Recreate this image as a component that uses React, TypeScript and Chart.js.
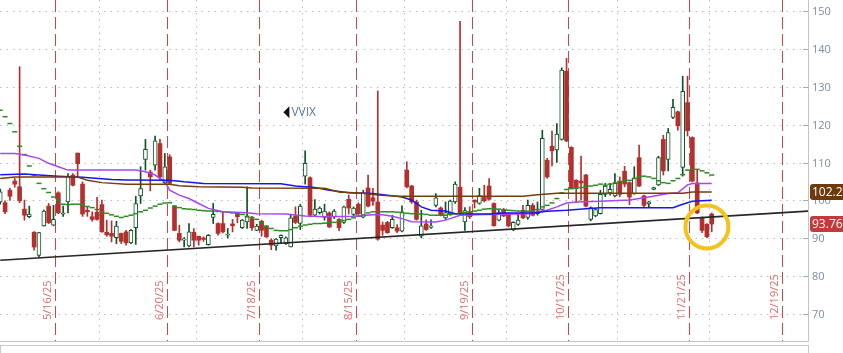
import React, { useEffect, useRef } from "react";
import { Chart, registerables } from "chart.js";
Chart.register(...registerables);

// ---- OHLC (one per trading day, index 0 = 5/1/25) ----
const opens = [
  99.6, 99.4, 102.7, 105.1, 103.6, 97.7, 95.7, 91.6, 85.5, 93.3, 98.5, 93.5, 102.0, 96.4, 99.6, 106.7, 112.5, 104.3, 97.4, 95.7,
  96.9, 98.9, 91.6, 91.3, 90.2, 91.3, 91.7, 88.8, 92.8, 101.2, 110.8, 107.5, 109.3, 115.0, 104.7, 111.5, 98.3, 91.3, 89.5, 88.0,
  91.6, 90.55, 90.1, 88.35, 95.5, 93.9, 93.9, 90.8, 93.8, 96.4, 92.8, 94.3, 95.2, 92.1, 94.5, 93.0, 89.5, 88.0, 90.2, 88.6,
  87.7, 95.9, 93.9, 106.4, 106.0, 96.1, 96.8, 95.5, 96.7, 95.7, 95.0, 94.2, 100.3, 96.3, 99.0, 95.6, 103.3, 100.7, 99.6, 93.5,
  94.2, 92.8, 92.8, 91.9, 108.0, 103.8, 99.6, 90.6, 93.8, 92.9, 98.7, 98.0, 95.4, 96.45, 99.6, 103.5, 94.3, 96.8, 100.1, 99.2,
  100.8, 103.8, 99.2, 94.8, 97.6, 96.5, 92.3, 93.7, 97.4, 95.5, 98.7, 96.5, 97.6, 110.6, 114.3, 113.3, 116.1, 134.1, 114.0, 105.3,
  105.1, 106.7, 95.0, 95.9, 96.5, 101.6, 102.0, 101.2, 105.1, 107.7, 104.7, 101.8, 111.3, 101.2, 99.1, 102.9, 104.1, 116.1, 110.8, 121.9,
  123.4, 108.7, 125.8, 116.6, 104.6, 95.5, 93.7, 96.4,
];
const highs = [
  103.0, 99.9, 103.2, 105.8, 135.3, 100.1, 98.5, 91.8, 91.6, 97.5, 99.2, 98.7, 102.3, 98.5, 107.1, 107.1, 112.5, 104.9, 98.3, 97.0,
  100.8, 100.1, 94.8, 94.6, 94.5, 91.4, 92.1, 92.3, 101.1, 108.9, 116.1, 108.0, 117.0, 116.1, 112.4, 112.1, 98.7, 93.45, 90.2, 93.9,
  92.6, 90.6, 90.4, 91.0, 99.2, 94.1, 97.0, 92.6, 95.0, 96.5, 95.0, 103.6, 95.8, 93.7, 94.8, 93.4, 89.9, 89.9, 90.9, 90.4,
  96.1, 98.3, 99.0, 113.1, 106.2, 100.2, 98.3, 99.0, 97.0, 97.6, 95.2, 98.5, 101.4, 98.3, 99.4, 102.7, 106.7, 103.2, 128.9, 94.3,
  94.5, 96.1, 93.6, 98.6, 110.2, 104.0, 100.1, 97.4, 94.9, 94.9, 101.8, 98.3, 99.6, 100.1, 104.9, 147.3, 98.1, 98.3, 100.1, 103.2,
  104.0, 105.8, 99.4, 97.4, 97.9, 96.7, 94.4, 96.4, 98.7, 100.1, 99.2, 99.6, 118.5, 111.1, 118.3, 120.3, 135.0, 137.5, 114.2, 105.5,
  111.7, 106.9, 98.3, 97.9, 102.7, 104.5, 104.5, 107.1, 106.2, 109.0, 104.9, 108.9, 114.6, 101.4, 99.8, 103.5, 111.7, 117.2, 119.0, 126.7,
  123.6, 132.8, 132.8, 116.8, 108.2, 95.7, 93.9, 96.7,
];
const lows = [
  99.0, 96.5, 100.0, 103.5, 99.4, 94.8, 95.4, 86.9, 85.1, 93.2, 93.9, 93.3, 96.5, 95.8, 96.7, 103.8, 106.2, 95.8, 95.8, 94.5,
  94.8, 91.6, 90.55, 89.05, 88.6, 88.6, 88.2, 88.6, 88.4, 99.2, 108.0, 102.5, 108.0, 105.4, 104.3, 104.3, 92.0, 89.05, 87.7, 87.7,
  87.7, 88.2, 89.2, 88.2, 93.9, 90.8, 91.4, 90.1, 91.7, 94.1, 92.6, 92.6, 92.1, 92.0, 90.55, 90.2, 87.0, 86.85, 88.8, 88.4,
  87.7, 93.9, 92.3, 104.3, 95.7, 95.7, 96.4, 94.8, 92.8, 95.2, 92.0, 93.9, 96.4, 95.8, 96.1, 95.4, 98.3, 98.7, 89.5, 90.8,
  91.3, 92.6, 91.5, 91.7, 103.3, 99.2, 94.8, 90.1, 92.1, 92.6, 98.3, 95.9, 95.0, 96.1, 99.2, 96.1, 92.1, 95.2, 98.0, 99.0,
  99.6, 100.1, 93.2, 94.6, 95.7, 93.0, 92.0, 93.4, 95.2, 95.0, 95.9, 96.1, 97.4, 105.8, 109.1, 110.0, 115.9, 115.5, 103.1, 99.4,
  100.1, 98.3, 94.6, 95.7, 96.4, 101.0, 101.4, 100.9, 101.0, 103.6, 98.9, 101.6, 103.6, 98.1, 98.3, 102.8, 103.9, 106.7, 107.8, 121.6,
  118.55, 106.4, 117.0, 104.9, 96.5, 91.5, 90.2, 91.7,
];
const closes = [
  102.3, 97.0, 101.1, 104.3, 99.9, 96.1, 96.4, 87.7, 91.5, 97.2, 94.1, 95.0, 96.7, 96.7, 106.2, 104.0, 109.7, 96.4, 97.0, 95.0,
  95.0, 91.7, 90.9, 90.55, 93.2, 89.2, 88.8, 92.1, 99.2, 103.1, 113.5, 106.2, 115.7, 106.2, 108.9, 104.5, 92.1, 89.5, 89.8, 91.7,
  89.5, 89.5, 89.7, 90.8, 96.3, 91.3, 91.7, 91.1, 93.3, 95.7, 94.8, 95.7, 92.8, 93.2, 92.1, 90.4, 88.2, 89.8, 90.8, 90.1,
  95.4, 94.2, 98.5, 109.8, 96.1, 97.7, 98.0, 97.2, 93.0, 97.2, 92.8, 98.3, 98.0, 98.0, 96.5, 102.0, 98.5, 99.8, 89.8, 92.1,
  91.5, 95.0, 91.9, 97.0, 103.6, 99.6, 95.0, 93.3, 92.3, 93.3, 100.7, 96.1, 96.8, 99.8, 104.3, 96.5, 97.3, 95.7, 99.6, 101.3,
  99.9, 100.3, 93.3, 96.8, 95.9, 93.3, 94.2, 94.8, 95.4, 98.7, 96.1, 97.0, 116.4, 106.2, 113.1, 117.5, 134.4, 115.7, 103.3, 103.4,
  104.6, 98.5, 98.1, 97.6, 101.6, 103.8, 102.9, 104.5, 101.6, 104.3, 100.9, 105.9, 103.8, 98.7, 99.6, 103.4, 111.3, 107.8, 117.9, 124.55,
  119.7, 128.8, 118.4, 105.1, 96.7, 92.1, 90.4, 93.76,
];

// ---- stair-step green average (one value per bar) ----
const greenAvg = [
  123.8, 122.1, 120.3, 118.1, 114.3, 112.1, 109.1, 106.7, 104.5, 103.1, 102.1, 100.9, 100.1, 99.0, 98.9, 99.0, 99.0, 98.8, 98.4, 98.1,
  97.6, 97.0, 96.6, 96.2, 95.8, 95.5, 95.8, 96.1, 96.5, 97.0, 97.4, 98.0, 98.5, 99.0, 99.3, 99.4, 98.5, 98.1, 97.8, 97.7,
  97.6, 97.4, 97.3, 97.2, 97.2, 97.1, 97.0, 96.9, 96.7, 96.5, 96.3, 95.8, 95.5, 95.0, 94.1, 93.2, 92.6, 92.1, 92.0, 92.0,
  92.3, 92.8, 93.2, 93.5, 93.7, 93.9, 93.9, 94.0, 94.2, 94.2, 94.4, 94.7, 95.0, 95.4, 95.8, 96.2, 96.7, 97.0, 97.0, 97.0,
  97.0, 97.0, 96.9, 96.8, 96.6, 96.5, 96.5, 96.4, 96.3, 96.1, 96.1, 96.1, 96.1, 96.3, 96.45, 96.6, 96.8, 97.0, 97.2, 97.4,
  97.7, 97.8, 97.8, 97.7, 97.5, 97.4, 97.3, 97.2, 97.15, 97.15, 97.15, 97.6, 98.3, 98.7, 99.35, 100.5, 102.0, 102.9, 103.1, 103.2,
  103.4, 103.6, 103.8, 104.0, 104.3, 104.0, 104.3, 104.6, 104.9, 105.2, 105.3, 105.8, 106.2, 106.4, 106.2, 105.8, 105.2, 104.7, 104.5, 105.2,
  105.8, 106.8, 108.0, 108.2, 108.2, 107.8, 107.3, 106.7,
];

// ---- smooth averages: [bar index, value] ----
const blueAvg: [number, number][] = [
  [0, 106.8], [5, 107.0], [8, 106.7], [12, 106.4], [17, 106.1], [23, 105.5], [26, 105.4], [35, 105.3], [38, 104.9], [42, 104.5],
  [58, 104.4], [61, 103.8], [65, 103.4], [68, 102.7], [72, 102.0], [77, 101.8], [80, 101.4], [83, 100.9], [85, 100.1], [86, 99.2],
  [87, 98.3], [89, 97.4], [92, 97.2], [94, 96.5], [101, 96.4], [104, 96.7], [110, 96.7], [113, 97.15], [117, 97.4], [121, 97.8],
  [124, 98.1], [139, 98.1], [141, 99.0], [143, 99.8], [147, 100.06],
];
const brownAvg: [number, number][] = [
  [0, 105.8], [3, 106.2], [16, 106.2], [18, 105.3], [21, 104.7], [26, 104.3], [35, 104.3], [37, 103.9], [41, 103.6], [50, 103.5],
  [52, 103.3], [67, 103.2], [70, 102.2], [75, 101.9], [78, 101.4], [82, 101.1], [108, 101.1], [111, 101.5], [115, 101.9], [141, 101.9],
  [143, 102.23], [147, 102.23],
];
const purpleAvg: [number, number][] = [
  [0, 112.4], [3, 112.4], [5, 112.0], [8, 111.1], [10, 109.8], [12, 108.9], [14, 108.0], [28, 108.0], [30, 107.55], [32, 106.7],
  [34, 104.9], [35, 102.7], [37, 101.4], [39, 100.5], [41, 99.2], [43, 97.9], [46, 97.0], [50, 96.8], [53, 96.5], [59, 96.4],
  [63, 95.9], [67, 95.7], [73, 95.8], [77, 96.2], [79, 96.2], [81, 95.8], [83, 95.2], [85, 94.4], [90, 94.3], [92, 94.8],
  [95, 96.1], [100, 96.3], [110, 96.5], [111, 97.0], [113, 97.4], [115, 98.3], [117, 99.3], [119, 99.6], [124, 99.8], [130, 100.1],
  [134, 100.9], [138, 101.8], [140, 102.0], [142, 104.1], [143, 104.46], [147, 104.46],
];
const trendLine: [number, number][] = [[0, 84.2], [167, 97.2]];

// ---- axes / annotations ----
const yTicks = [70, 80, 90, 100, 110, 120, 130, 140, 150];
const expiryLabels = ["5/16/25", "6/20/25", "7/18/25", "8/15/25", "9/19/25", "10/17/25", "11/21/25", "12/19/25"];
const expiryIdx = [11.4, 34.4, 53.4, 73.4, 97.4, 117.4, 142.4, 161.5];
const monthIdx = [20.4, 40.4, 62.4, 83.4, 104.4, 127.4, 146.4];
const priceTags = [
  { value: 102.23, text: "102.23", color: "#6c3a0c" },
  { value: 93.76, text: "93.76", color: "#c23a3a" },
];
const symbolLabel = { text: "VVIX", idx: 58.5, value: 123.3 };
const circleMark = { idx: 146, value: 93.0, r: 21.5 };

const UP = "#0d5323";
const DOWN = "#b3302f";
const FONT = '"Open Sans", "DejaVu Sans", sans-serif';

const overlay = {
  id: "overlay",
  beforeDatasetsDraw(chart: any) {
    const { ctx, chartArea: a, scales } = chart;
    const x = scales.x, y = scales.y;
    ctx.save();
    ctx.lineWidth = 1;
    // horizontal dotted grid
    ctx.strokeStyle = "#bcbcbc";
    ctx.setLineDash([1.5, 5]);
    for (const t of yTicks) {
      const py = Math.round(y.getPixelForValue(t)) + 0.5;
      ctx.beginPath();
      ctx.moveTo(a.left, py);
      ctx.lineTo(a.right - 5, py);
      ctx.stroke();
    }
    // vertical dotted month separators
    for (const m of monthIdx) {
      const px = Math.round(x.getPixelForValue(m)) + 0.5;
      ctx.beginPath();
      ctx.moveTo(px, a.top);
      ctx.lineTo(px, a.bottom);
      ctx.stroke();
    }
    // red dashed expiry lines
    ctx.strokeStyle = "#d04444";
    ctx.setLineDash([12, 5]);
    for (const e of expiryIdx) {
      const px = Math.round(x.getPixelForValue(e)) + 0.5;
      ctx.beginPath();
      ctx.moveTo(px, a.top);
      ctx.lineTo(px, a.bottom);
      ctx.stroke();
    }
    ctx.setLineDash([]);
    // expiry labels
    ctx.fillStyle = "#e06a6a";
    ctx.font = "11px " + FONT;
    ctx.textAlign = "left";
    ctx.textBaseline = "alphabetic";
    expiryIdx.forEach((e, i) => {
      const px = x.getPixelForValue(e);
      ctx.save();
      ctx.translate(px - 4, 320);
      ctx.rotate(-Math.PI / 2);
      ctx.fillText(expiryLabels[i], 0, 0);
      ctx.restore();
    });
    ctx.restore();
  },
  afterDraw(chart: any) {
    const { ctx, chartArea: a, scales, width, height } = chart;
    const x = scales.x, y = scales.y;
    ctx.save();
    // axis frame
    ctx.strokeStyle = "#c4c4c4";
    ctx.lineWidth = 1;
    ctx.beginPath();
    ctx.moveTo(a.right + 0.5, 0);
    ctx.lineTo(a.right + 0.5, a.bottom + 0.5);
    ctx.moveTo(0, a.bottom + 0.5);
    ctx.lineTo(a.right + 0.5, a.bottom + 0.5);
    ctx.stroke();
    // lower pane outline
    ctx.strokeStyle = "#c8c8c8";
    ctx.strokeRect(0.5, a.bottom + 4.5, a.right, height);
    // tick marks + labels
    ctx.fillStyle = "#7d8ba2";
    ctx.font = "11px " + FONT;
    ctx.textBaseline = "middle";
    ctx.textAlign = "left";
    for (const t of yTicks) {
      const py = Math.round(y.getPixelForValue(t)) + 0.5;
      ctx.strokeStyle = "#a8a8a8";
      ctx.beginPath();
      ctx.moveTo(a.right - 5, py);
      ctx.lineTo(a.right, py);
      ctx.stroke();
      ctx.fillText(String(t), a.right + 4, py);
    }
    // price tags
    for (const p of priceTags) {
      const py = y.getPixelForValue(p.value);
      const x0 = a.right + 2, h = 16, r = 3;
      ctx.fillStyle = p.color;
      ctx.beginPath();
      ctx.moveTo(width, py - h / 2);
      ctx.lineTo(x0 + r, py - h / 2);
      ctx.quadraticCurveTo(x0, py - h / 2, x0, py - h / 2 + r);
      ctx.lineTo(x0, py + h / 2 - r);
      ctx.quadraticCurveTo(x0, py + h / 2, x0 + r, py + h / 2);
      ctx.lineTo(width, py + h / 2);
      ctx.closePath();
      ctx.fill();
      ctx.fillStyle = "#ffffff";
      ctx.font = "12px " + FONT;
      ctx.fillText(p.text, x0 + 2, py + 0.5);
    }
    // symbol label
    const sx = x.getPixelForValue(symbolLabel.idx);
    const sy = y.getPixelForValue(symbolLabel.value);
    ctx.fillStyle = "#111111";
    ctx.beginPath();
    ctx.moveTo(sx, sy);
    ctx.lineTo(sx + 6, sy - 6);
    ctx.lineTo(sx + 6, sy + 6);
    ctx.closePath();
    ctx.fill();
    ctx.fillStyle = "#5a78a6";
    ctx.font = "12px " + FONT;
    ctx.textBaseline = "middle";
    ctx.fillText(symbolLabel.text, sx + 8, sy + 0.5);
    // highlight circle
    ctx.strokeStyle = "#f5c21b";
    ctx.lineWidth = 4;
    ctx.beginPath();
    ctx.arc(x.getPixelForValue(circleMark.idx), y.getPixelForValue(circleMark.value), circleMark.r, 0, Math.PI * 2);
    ctx.stroke();
    ctx.restore();
  },
};

export default function App() {
  const ref = useRef<HTMLCanvasElement | null>(null);
  useEffect(() => {
    document.body.style.margin = "0";
    const canvas = ref.current!;
    const up = closes.map((c, i) => c >= opens[i]);
    const wickData = lows.map((l, i) => ({ x: i, y: [l, highs[i]] }));
    const bodyData = opens.map((o, i) => ({ x: i, y: [Math.min(o, closes[i]), Math.max(o, closes[i])] }));
    const pairs = (arr: [number, number][]) => arr.map(([i, v]) => ({ x: i, y: v }));
    const lineDs = (data: any, color: string, w = 1.5) => ({
      type: "line", data, borderColor: color, borderWidth: w, pointRadius: 0, pointHoverRadius: 0,
      fill: false, tension: 0, order: 1,
    });
    const chart = new Chart(canvas, {
      type: "bar",
      data: {
        datasets: [
          {
            type: "bar", data: wickData as any, barThickness: 1, grouped: false, order: 6,
            backgroundColor: up.map((u) => (u ? UP : DOWN)), borderWidth: 0, minBarLength: 1,
          },
          {
            type: "bar", data: bodyData as any, barThickness: 4, grouped: false, order: 5,
            backgroundColor: up.map((u) => (u ? "#ffffff" : DOWN)),
            borderColor: up.map((u) => (u ? UP : DOWN)),
            borderWidth: up.map((u) => (u ? 1 : 0)), borderSkipped: false, minBarLength: 1,
          },
          lineDs(pairs(trendLine), "#262626", 1.6) as any,
          lineDs(pairs(brownAvg), "#7a3c08") as any,
          lineDs(pairs(blueAvg), "#1616ee") as any,
          lineDs(pairs(purpleAvg), "#a845f5") as any,
          {
            type: "line", data: greenAvg.map((v, i) => ({ x: i, y: v })), showLine: false,
            pointStyle: "line", pointRadius: 2.5, pointHoverRadius: 2.5, pointBorderWidth: 1.5,
            pointBorderColor: "#2a8c22", pointBackgroundColor: "#2a8c22", order: 1,
          } as any,
        ],
      },
      options: {
        responsive: false,
        animation: false,
        events: [],
        layout: { autoPadding: false, padding: { top: 0, bottom: 12, left: 0, right: 0 } },
        plugins: { legend: { display: false }, tooltip: { enabled: false } },
        scales: {
          x: { type: "linear", min: -0.05, max: 166.89, display: false, offset: false },
          y: {
            type: "linear", position: "right", min: 62.9, max: 152.9,
            grid: { display: false, drawTicks: false }, border: { display: false },
            ticks: { display: false },
            afterFit: (s: any) => { s.width = 35; },
          },
        },
      } as any,
      plugins: [overlay],
    });
    return () => chart.destroy();
  }, []);
  return (
    <div style={{ width: 843, height: 353, background: "#ffffff" }}>
      <canvas ref={ref} width={843} height={353} style={{ display: "block" }} />
    </div>
  );
}
